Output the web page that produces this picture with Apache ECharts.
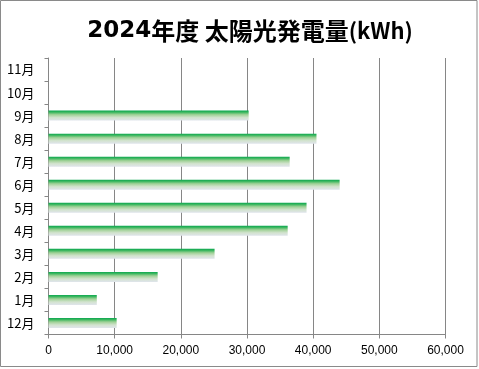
<!DOCTYPE html>
<html>
<head>
<meta charset="utf-8">
<script src="https://cdn.jsdelivr.net/npm/echarts@6/dist/echarts.min.js"></script>
<style>
html,body{margin:0;padding:0;background:#fff;}
#chart{width:479px;height:369px;}
</style>
</head>
<body>
<div id="chart"></div>
<script>
const months = ['12月','1月','2月','3月','4月','5月','6月','7月','8月','9月','10月','11月'];
const generation = [10300, 7300, 16500, 25100, 36150, 39000, 44000, 36450, 40500, 30250, null, null];
const xTicks = [0, 10000, 20000, 30000, 40000, 50000, 60000];
const titleParts = ['2024', '年度 太陽光発電量', '(kWh)'];

const chart = echarts.init(document.getElementById('chart'), null, {renderer: 'canvas'});
const barGradient = new echarts.graphic.LinearGradient(0, 0, 0, 1, [
  {offset: 0, color: '#0aa650'},
  {offset: 0.15, color: '#35b55c'},
  {offset: 0.4, color: '#9fd196'},
  {offset: 0.7, color: '#d3e3cf'},
  {offset: 1, color: '#dfe4eb'}
]);
chart.setOption({
  animation: false,
  backgroundColor: '#fff',
  title: {
    text: '{a|' + titleParts[0] + '}{b|' + titleParts[1] + '}{c|' + titleParts[2] + '}',
    left: 245, top: 14, textAlign: 'center',
    textStyle: {
      rich: {
        a: {fontFamily: 'DejaVu Sans', fontWeight: 'bold', fontSize: 23, color: '#000'},
        b: {fontFamily: 'Noto Sans CJK JP', fontWeight: 'bold', fontSize: 24, color: '#000'},
        c: {fontFamily: 'Noto Sans CJK JP', fontWeight: 'bold', fontSize: 22, color: '#000'}
      }
    }
  },
  graphic: [{
    type: 'rect', silent: true,
    shape: {x: 0.5, y: 0.5, width: 476.5, height: 366},
    style: {fill: 'none', stroke: '#8a8a8a', lineWidth: 1}
  }],
  grid: {left: 48.5, right: 33.5, top: 58, bottom: 34.5, containLabel: false},
  xAxis: {
    type: 'value', min: xTicks[0], max: xTicks[xTicks.length - 1], interval: xTicks[1] - xTicks[0],
    axisLine: {show: true, lineStyle: {color: '#868686', width: 1}},
    axisTick: {show: true, length: 4, lineStyle: {color: '#868686'}},
    splitLine: {show: true, lineStyle: {color: '#868686', width: 1}},
    axisLabel: {
      margin: 10, color: '#000', fontFamily: 'Liberation Sans', fontSize: 12,
      formatter: v => v.toLocaleString('en-US')
    }
  },
  yAxis: {
    type: 'category', data: months,
    axisLine: {show: true, lineStyle: {color: '#868686', width: 1}},
    axisTick: {show: true, length: 4, lineStyle: {color: '#868686'}},
    axisLabel: {margin: 14, color: '#000', fontFamily: 'Noto Sans CJK JP', fontSize: 13}
  },
  series: [{
    type: 'bar', data: generation, barWidth: 10,
    itemStyle: {color: barGradient}
  }]
});
</script>
</body>
</html>
